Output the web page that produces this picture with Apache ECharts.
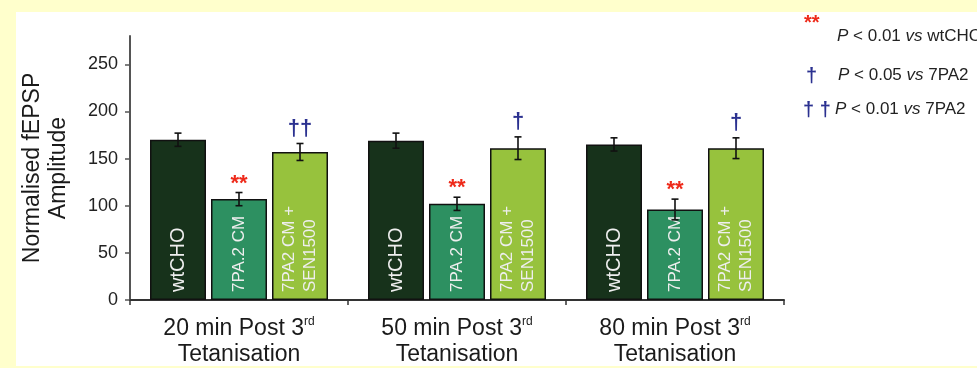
<!DOCTYPE html>
<html>
<head>
<meta charset="utf-8">
<script src="https://cdn.jsdelivr.net/npm/echarts@6/dist/echarts.min.js"></script>
<style>
  html, body { margin: 0; padding: 0; background: #ffffcc; }
  #chart { width: 977px; height: 368px; }
</style>
</head>
<body>
<div id="chart"></div>
<script>
// Time points after the 3rd tetanisation
const timepoints = ['20 min', '50 min', '80 min'];
// Treatment groups (bar labels)
const groupNames = ['wtCHO', '7PA.2 CM', '7PA2 CM +\nSEN1500'];
// Normalised fEPSP amplitude (mean) and error
const wtCHO = [170, 169, 165];
const wtCHOErr = [7, 8, 7];
const pa2 = [107, 102, 96];
const pa2Err = [7, 7, 11];
const pa2Sen = [157, 161, 161];
const pa2SenErr = [9, 12, 11];
// Significance markers above each bar
const wtCHOMarks = ['', '', ''];
const pa2Marks = ['**', '**', '**'];
const pa2SenMarks = ['\u2020\u2020', '\u2020', '\u2020'];
// Y axis ticks
const yTicks = [0, 50, 100, 150, 200, 250];

const FONT = '"Liberation Sans", Arial, sans-serif';
const BAR_W = 56;
const BAR_GAP = 5;
const STEP = BAR_W + BAR_GAP;

const chart = echarts.init(document.getElementById('chart'));

function barSeries(name, values, color, fontSize, lineHeight) {
  return {
    name: name,
    type: 'bar',
    data: values,
    barWidth: BAR_W,
    barGap: (BAR_GAP / BAR_W * 100) + '%',
    itemStyle: { color: color, borderColor: '#111', borderWidth: 1.5 },
    label: {
      show: true,
      position: 'insideBottom',
      rotate: 90,
      align: 'left',
      verticalAlign: 'middle',
      distance: 8,
      formatter: () => name,
      color: '#eeeeee',
      fontFamily: FONT,
      fontSize: fontSize,
      lineHeight: lineHeight
    },
    emphasis: { disabled: true },
    z: 2
  };
}

function errorSeries(idx, means, errs, marks, markColor, markFont, markGap) {
  return {
    type: 'custom',
    data: means.map((m, i) => [i, m, errs[i]]),
    z: 5,
    silent: true,
    renderItem(params, api) {
      const i = api.value(0), m = api.value(1), e = api.value(2);
      const x = api.coord([i, m])[0] + (idx - 1) * STEP;
      const yTop = api.coord([i, m + e])[1];
      const yBot = api.coord([i, m - e])[1];
      const cap = 3.5;
      const ls = { stroke: '#111', lineWidth: 1.6 };
      const children = [
        { type: 'line', shape: { x1: x, y1: yTop, x2: x, y2: yBot }, style: ls },
        { type: 'line', shape: { x1: x - cap, y1: yTop, x2: x + cap, y2: yTop }, style: ls },
        { type: 'line', shape: { x1: x - cap, y1: yBot, x2: x + cap, y2: yBot }, style: ls }
      ];
      const mark = marks[params.dataIndex];
      if (mark) {
        children.push({
          type: 'text',
          style: {
            text: mark, x: x, y: yTop - markGap,
            align: 'center', verticalAlign: 'bottom',
            fill: markColor, font: markFont
          }
        });
      }
      return { type: 'group', children: children };
    }
  };
}

const legendRich = {
  i: { fontStyle: 'italic', fontFamily: FONT, fontSize: 17, fill: '#222', color: '#222' },
  n: { fontFamily: FONT, fontSize: 17, fill: '#222', color: '#222' }
};

chart.setOption({
  backgroundColor: '#ffffcc',
  animation: false,
  textStyle: { fontFamily: FONT },
  graphic: [
    { type: 'rect', z: -10, silent: true, shape: { x: 16, y: 12, width: 961, height: 354 }, style: { fill: '#ffffff' } },
    { type: 'text', left: 804, top: 13, style: { text: '**', fill: '#ee2a1a', font: 'bold 20px ' + FONT } },
    { type: 'text', left: 837, top: 28, style: { text: '{i|P}{n| < 0.01 }{i|vs}{n| wtCHO}', rich: legendRich } },
    { type: 'text', left: 806, top: 66, style: { text: '\u2020', fill: '#2b3190', font: 'bold 20px ' + FONT } },
    { type: 'text', left: 838, top: 67, style: { text: '{i|P}{n| < 0.05 }{i|vs}{n| 7PA2}', rich: legendRich } },
    { type: 'text', left: 803, top: 100, style: { text: '\u2020 \u2020', fill: '#2b3190', font: 'bold 20px ' + FONT } },
    { type: 'text', left: 835, top: 101, style: { text: '{i|P}{n| < 0.01 }{i|vs}{n| 7PA2}', rich: legendRich } }
  ],
  grid: { left: 130, right: 193, top: 36, bottom: 68 },
  xAxis: {
    type: 'category',
    data: timepoints,
    axisLine: { lineStyle: { color: '#333', width: 2 } },
    axisTick: { show: true, length: 5, lineStyle: { color: '#333', width: 1.5 } },
    axisLabel: {
      interval: 0,
      margin: 16,
      formatter: (v) => '{a|' + v + ' Post 3}{s|rd}\n{a|Tetanisation}',
      rich: {
        a: { fontFamily: FONT, fontSize: 23, lineHeight: 26, color: '#1a1a1a' },
        s: { fontFamily: FONT, fontSize: 12, lineHeight: 26, verticalAlign: 'top', color: '#1a1a1a' }
      }
    }
  },
  yAxis: {
    type: 'value',
    min: 0,
    max: 280,
    interval: 50,
    name: 'Normalised fEPSP\nAmplitude',
    nameLocation: 'middle',
    nameGap: 58,
    nameTextStyle: { fontFamily: FONT, fontSize: 23, lineHeight: 26, color: '#1a1a1a' },
    axisLine: { show: true, lineStyle: { color: '#555', width: 2 } },
    axisTick: { show: true, length: 5, customValues: yTicks, lineStyle: { color: '#555', width: 1.5 } },
    axisLabel: { customValues: yTicks, margin: 12, fontFamily: FONT, fontSize: 18, color: '#222' },
    splitLine: { show: false }
  },
  series: [
    barSeries(groupNames[0], wtCHO, '#17321b', 20, 22),
    barSeries(groupNames[1], pa2, '#2d9061', 17, 20),
    barSeries(groupNames[2], pa2Sen, '#97c23d', 17, 21),
    errorSeries(0, wtCHO, wtCHOErr, wtCHOMarks, '#ee2a1a', '', 0),
    errorSeries(1, pa2, pa2Err, pa2Marks, '#ee2a1a', 'bold 22px ' + FONT, -2),
    errorSeries(2, pa2Sen, pa2SenErr, pa2SenMarks, '#2b3190', 'bold 22px ' + FONT, 4)
  ]
});
</script>
</body>
</html>
